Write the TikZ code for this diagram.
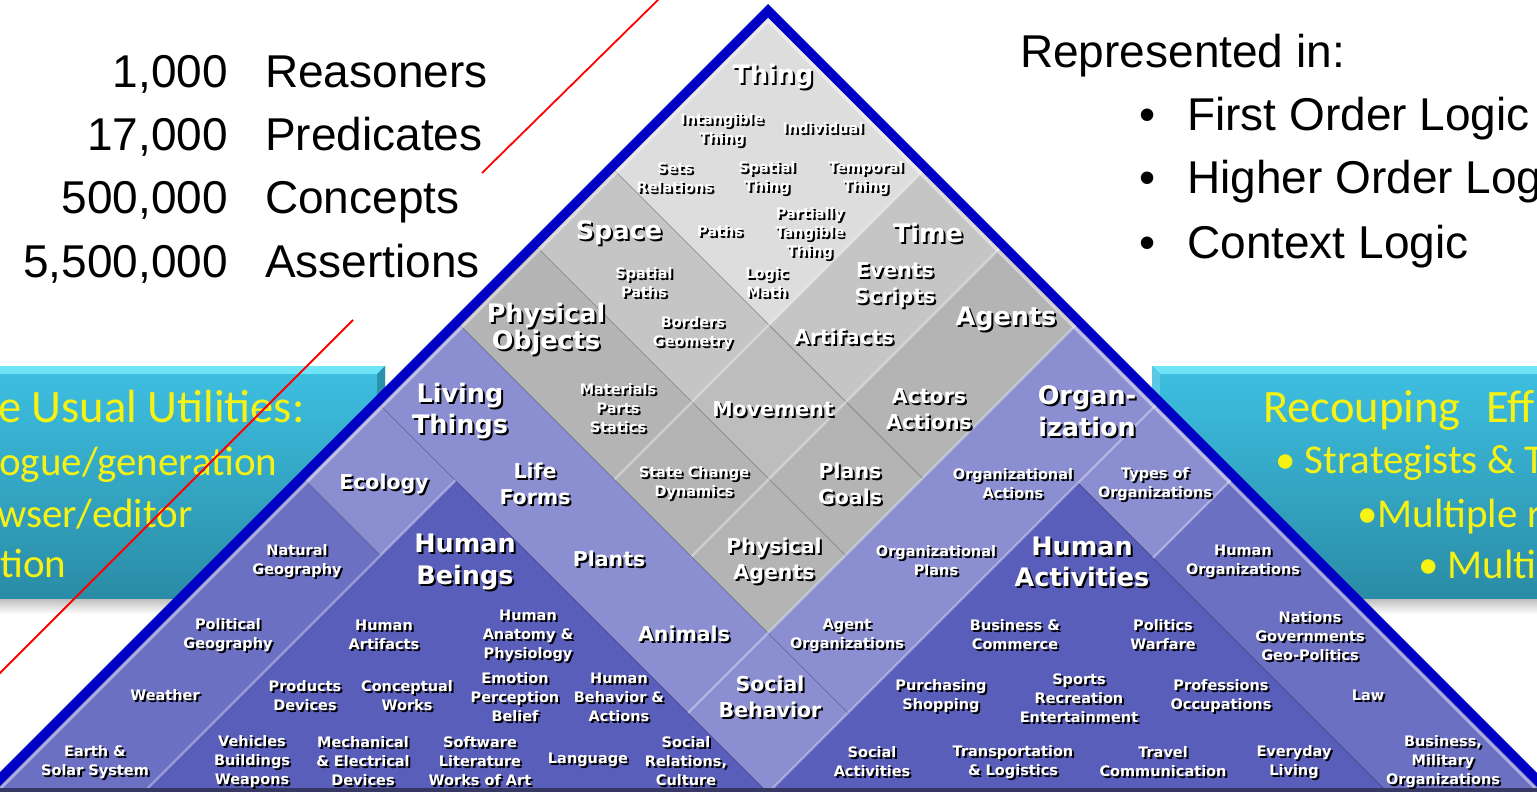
\documentclass[tikz,border=0pt]{standalone}
\usepackage{fontspec}
\setmainfont{Liberation Sans}
\newfontfamily\pyrfont{DejaVu Sans}
\newfontfamily\boxfont{Carlito}
\usetikzlibrary{positioning}

\definecolor{pyrblue}{RGB}{0,0,196}
\definecolor{thinggray}{RGB}{221,221,221}
\definecolor{midgray}{RGB}{197,197,197}
\definecolor{movegray}{RGB}{189,189,189}
\definecolor{darkgray}{RGB}{180,180,180}
\definecolor{lightpurple}{RGB}{139,143,209}
\definecolor{midpurple}{RGB}{108,112,194}
\definecolor{deeppurple}{RGB}{90,94,187}
\definecolor{tealtop}{RGB}{62,192,226}
\definecolor{tealbot}{RGB}{42,140,166}
\definecolor{tealhi}{RGB}{110,228,246}
\definecolor{boxyellow}{RGB}{245,242,20}
\definecolor{baseband}{RGB}{55,55,100}

% white label with a black drop shadow
\newcommand{\pyrtext}[4]{%
  \node[#2, text=black, xshift=2pt, yshift=-2pt] (#1-sh) at (#3) {#4};
  \node[#2] (#1) at (#3) {#4};}
% one cell of the pyramid, in (p,q) units
\newcommand{\pyrcell}[5]{\fill[#1] (#2,#3) -- (#4,#3) -- (#4,#5) -- (#2,#5) -- cycle;}

\begin{document}
\begin{tikzpicture}[x=1pt, y=-1pt,
  lbl/.style={text=white, align=center, inner sep=0pt, font=\pyrfont\bfseries\fontsize{14.5}{19}\selectfont},
  lblM/.style={lbl, font=\pyrfont\bfseries\fontsize{20.5}{25.5}\selectfont},
  lblL/.style={lbl, font=\pyrfont\bfseries\fontsize{25.5}{31.5}\selectfont},
  listtext/.style={inner sep=0pt, font=\fontsize{46}{50}\selectfont},
  boxhead/.style={inner sep=0pt, text=boxyellow, font=\boxfont\fontsize{46.5}{50}\selectfont},
  boxtext/.style={boxhead, font=\boxfont\fontsize{41}{45}\selectfont},
  darkline/.style={black, opacity=0.3, line width=0.7pt},
  lightline/.style={white, opacity=0.35, line width=2.2pt},
  redline/.style={red, line width=1.8pt}]

\useasboundingbox (0,0) rectangle (1537,792);
\fill[white] (0,0) rectangle (1537,792);

% teal boxes behind the pyramid
\shade[top color=black!30, bottom color=white] (-10,596) rectangle (392,614);
\shade[top color=tealtop, bottom color=tealbot] (-10,366) rectangle (385,598);
\fill[tealhi] (-10,366) -- (385,366) -- (377,374) -- (-10,374) -- cycle;
\fill[tealbot!90!tealtop] (385,366) -- (385,598) -- (377,590) -- (377,374) -- cycle;

\shade[top color=black!30, bottom color=white] (1145,596) rectangle (1547,614);
\shade[top color=tealtop, bottom color=tealbot] (1152,366) rectangle (1547,598);
\fill[tealhi] (1152,366) -- (1547,366) -- (1547,374) -- (1160,374) -- cycle;
\fill[tealtop!85!white] (1152,366) -- (1160,374) -- (1160,590) -- (1152,598) -- cycle;

% pyramid in (p,q) units from the apex
\begin{scope}[shift={(768,18)}, x={(0.5pt,-0.5pt)}, y={(-0.5pt,-0.5pt)}]
  \fill[pyrblue] (-14,-14) -- (1620,-14) -- (-14,1620) -- cycle;
  \fill[midpurple] (0,0) -- (1620,0) -- (0,1620) -- cycle;
  \pyrcell{lightpurple}{0}{615}{775}{775}
  \pyrcell{lightpurple}{0}{775}{150}{925}
  \pyrcell{lightpurple}{615}{0}{775}{775}
  \pyrcell{lightpurple}{775}{0}{925}{155}
  \fill[deeppurple] (150,775) -- (800,775) -- (150,1425) -- cycle;
  \fill[deeppurple] (775,155) -- (775,800) -- (1425,155) -- cycle;
  \pyrcell{darkgray}{0}{0}{615}{615}
  \pyrcell{midgray}{0}{306}{308}{460}
  \pyrcell{midgray}{308}{0}{462}{306}
  \pyrcell{movegray}{308}{306}{462}{460}
  \pyrcell{thinggray}{0}{0}{308}{306}
  % cell edges
  \draw[darkline] (0,306) -- (615,306);
  \draw[darkline] (0,460) -- (615,460);
  \draw[darkline] (0,615) -- (775,615);
  \draw[darkline] (0,775) -- (775,775);
  \draw[darkline] (0,925) -- (150,925);
  \draw[darkline] (775,155) -- (1420,155);
  \draw[lightline] (308,0) -- (308,615);
  \draw[lightline] (462,0) -- (462,615);
  \draw[lightline] (615,0) -- (615,775);
  \draw[lightline] (775,0) -- (775,775);
  \draw[lightline] (150,775) -- (150,1420);
  \draw[lightline] (925,0) -- (925,155);
  \draw[white, opacity=0.45, line width=2.5pt] (3,1620) -- (3,3) -- (1620,3);
\end{scope}
\fill[baseband] (-5,788) rectangle (1545,796);

% labels
\pyrtext{thing}{lblL}{773,77}{Thing}
\pyrtext{intang}{lbl}{722,130}{Intangible\\Thing}
\pyrtext{indiv}{lbl}{823,128}{Individual}
\pyrtext{sets}{lbl}{675,178}{Sets\\Relations}
\pyrtext{spthing}{lbl}{767,178}{Spatial\\Thing}
\pyrtext{tmthing}{lbl}{866,178}{Temporal\\Thing}
\pyrtext{space}{lblL}{619,233}{Space}
\pyrtext{paths}{lbl}{720,231}{Paths}
\pyrtext{partial}{lbl}{810,234}{Partially\\Tangible\\Thing}
\pyrtext{time}{lblL}{928,233}{Time}
\pyrtext{sppaths}{lbl}{644,283}{Spatial\\Paths}
\pyrtext{logic}{lbl}{767,283}{Logic\\Math}
\pyrtext{events}{lblM}{895,285}{Events\\Scripts}
\pyrtext{physobj}{lblL}{546,329}{Physical\\[-4pt]Objects}
\pyrtext{borders}{lbl}{693,333}{Borders\\Geometry}
\pyrtext{artif}{lblM}{844,337}{Artifacts}
\pyrtext{agents}{lblL}{1006,319}{Agents}
\pyrtext{living}{lblL}{460,411}{Living\\Things}
\pyrtext{materials}{lbl}{618,408}{Materials\\Parts\\Statics}
\pyrtext{movement}{lblM}{773,409}{Movement}
\pyrtext{actors}{lblM}{929,409}{Actors\\Actions}
\pyrtext{organ}{lblL}{1087,411}{Organ-\\ization}
\pyrtext{ecology}{lblM}{384,484}{Ecology}
\pyrtext{life}{lblM}{535,484}{Life\\Forms}
\pyrtext{statechg}{lbl}{694,483}{State Change\\Dynamics}
\pyrtext{plans}{lblM}{850,484}{Plans\\Goals}
\pyrtext{orgact}{lbl}{1013,484}{Organizational\\Actions}
\pyrtext{types}{lbl}{1155,484}{Types of\\Organizations}
\pyrtext{natgeo}{lbl}{297,561}{Natural\\Geography}
\pyrtext{humbeings}{lblL}{465,562}{Human\\Beings}
\pyrtext{plants}{lblM}{609,559}{Plants}
\pyrtext{physag}{lblM}{774,561}{Physical\\Agents}
\pyrtext{orgplans}{lbl}{936,561}{Organizational\\Plans}
\pyrtext{humact}{lblL}{1082,562}{Human\\Activities}
\pyrtext{humorg}{lbl}{1243,561}{Human\\Organizations}
\pyrtext{polgeo}{lbl}{228,635}{Political\\Geography}
\pyrtext{humart}{lbl}{384,635}{Human\\Artifacts}
\pyrtext{anatomy}{lbl}{528,636}{Human\\Anatomy \&\\Physiology}
\pyrtext{animals}{lblM}{684,634}{Animals}
\pyrtext{agentorg}{lbl}{847,635}{Agent\\Organizations}
\pyrtext{business}{lbl}{1015,635}{Business \&\\Commerce}
\pyrtext{politics}{lbl}{1163,635}{Politics\\Warfare}
\pyrtext{nations}{lbl}{1310,636}{Nations\\Governments\\Geo-Politics}
\pyrtext{weather}{lbl}{165,695}{Weather}
\pyrtext{products}{lbl}{305,696}{Products\\Devices}
\pyrtext{concept}{lbl}{407,696}{Conceptual\\Works}
\pyrtext{emotion}{lbl}{515,697}{Emotion\\Perception\\Belief}
\pyrtext{behavior}{lbl}{619,697}{Human\\Behavior \&\\Actions}
\pyrtext{social}{lblM}{770,697}{Social\\Behavior}
\pyrtext{purchase}{lbl}{941,696}{Purchasing\\Shopping}
\pyrtext{sports}{lbl}{1079,698}{Sports\\Recreation\\Entertainment}
\pyrtext{profess}{lbl}{1221,696}{Professions\\Occupations}
\pyrtext{law}{lbl}{1368,695}{Law}
\pyrtext{earth}{lbl}{95,762}{Earth \&\\Solar System}
\pyrtext{vehicles}{lbl}{252,761}{Vehicles\\Buildings\\Weapons}
\pyrtext{mechan}{lbl}{363,761}{Mechanical\\\& Electrical\\Devices}
\pyrtext{software}{lbl}{480,761}{Software\\Literature\\Works of Art}
\pyrtext{language}{lbl}{588,760}{Language}
\pyrtext{socrel}{lbl}{686,761}{Social\\Relations,\\Culture}
\pyrtext{socact}{lbl}{872,762}{Social\\Activities}
\pyrtext{transport}{lbl}{1013,762}{Transportation\\\& Logistics}
\pyrtext{travel}{lbl}{1163,762}{Travel\\Communication}
\pyrtext{everyday}{lbl}{1294,762}{Everyday\\Living}
\pyrtext{militar}{lbl}{1443,762}{Business,\\Military\\Organizations}

% counts on the left
\node[listtext, anchor=base east] (n1) at (228,88) {1,000};
\node[listtext, anchor=base east] (n2) at (228,150) {17,000};
\node[listtext, anchor=base east] (n3) at (228,213) {500,000};
\node[listtext, anchor=base east] (n4) at (228,277) {5,500,000};
\node[listtext, base right=37pt of n1] (w1) {Reasoners};
\node[listtext, base right=37pt of n2] (w2) {Predicates};
\node[listtext, base right=37pt of n3] (w3) {Concepts};
\node[listtext, base right=37pt of n4] (w4) {Assertions};

% logics on the right
\node[listtext, anchor=base west] (rep) at (1020,68) {Represented in:};
\node[listtext, anchor=base west] (b1) at (1139,130) {\textbullet};
\node[listtext, anchor=base west] (b2) at (1139,193) {\textbullet};
\node[listtext, anchor=base west] (b3) at (1139,258) {\textbullet};
\node[listtext, anchor=base west] (l1) at (1187,130) {First Order Logic};
\node[listtext, anchor=base west] (l2) at (1187,193) {Higher Order Log};
\node[listtext, anchor=base west] (l3) at (1187,258) {Context Logic};

% box texts
\node[boxhead, anchor=base west] (u1) at (-2,422) {e Usual Utilities:};
\node[boxtext, anchor=base west] (u2) at (-1,475) {ogue/generation};
\node[boxtext, anchor=base west] (u3) at (-3,527) {wser/editor};
\node[boxtext, anchor=base west] (u4) at (0,577) {tion};
\node[boxhead, anchor=base west] (e1) at (1263,422) {Recouping\hspace{26pt}Eff};
\node[boxtext, anchor=base west] (e2) at (1275,473) {• Strategists \& T};
\node[boxtext, anchor=base west] (e3) at (1357,527) {•Multiple r};
\node[boxtext, anchor=base west] (e4) at (1418,578) {• Multip};

% red strokes
\coordinate (r1a) at (482,173);
\coordinate (r1b) at (662,-4);
\coordinate (r2a) at (353,320);
\coordinate (r2b) at (-4,677);
\draw[redline] (r1a) -- (r1b);
\draw[redline] (r2a) -- (r2b);
\end{tikzpicture}
\end{document}
